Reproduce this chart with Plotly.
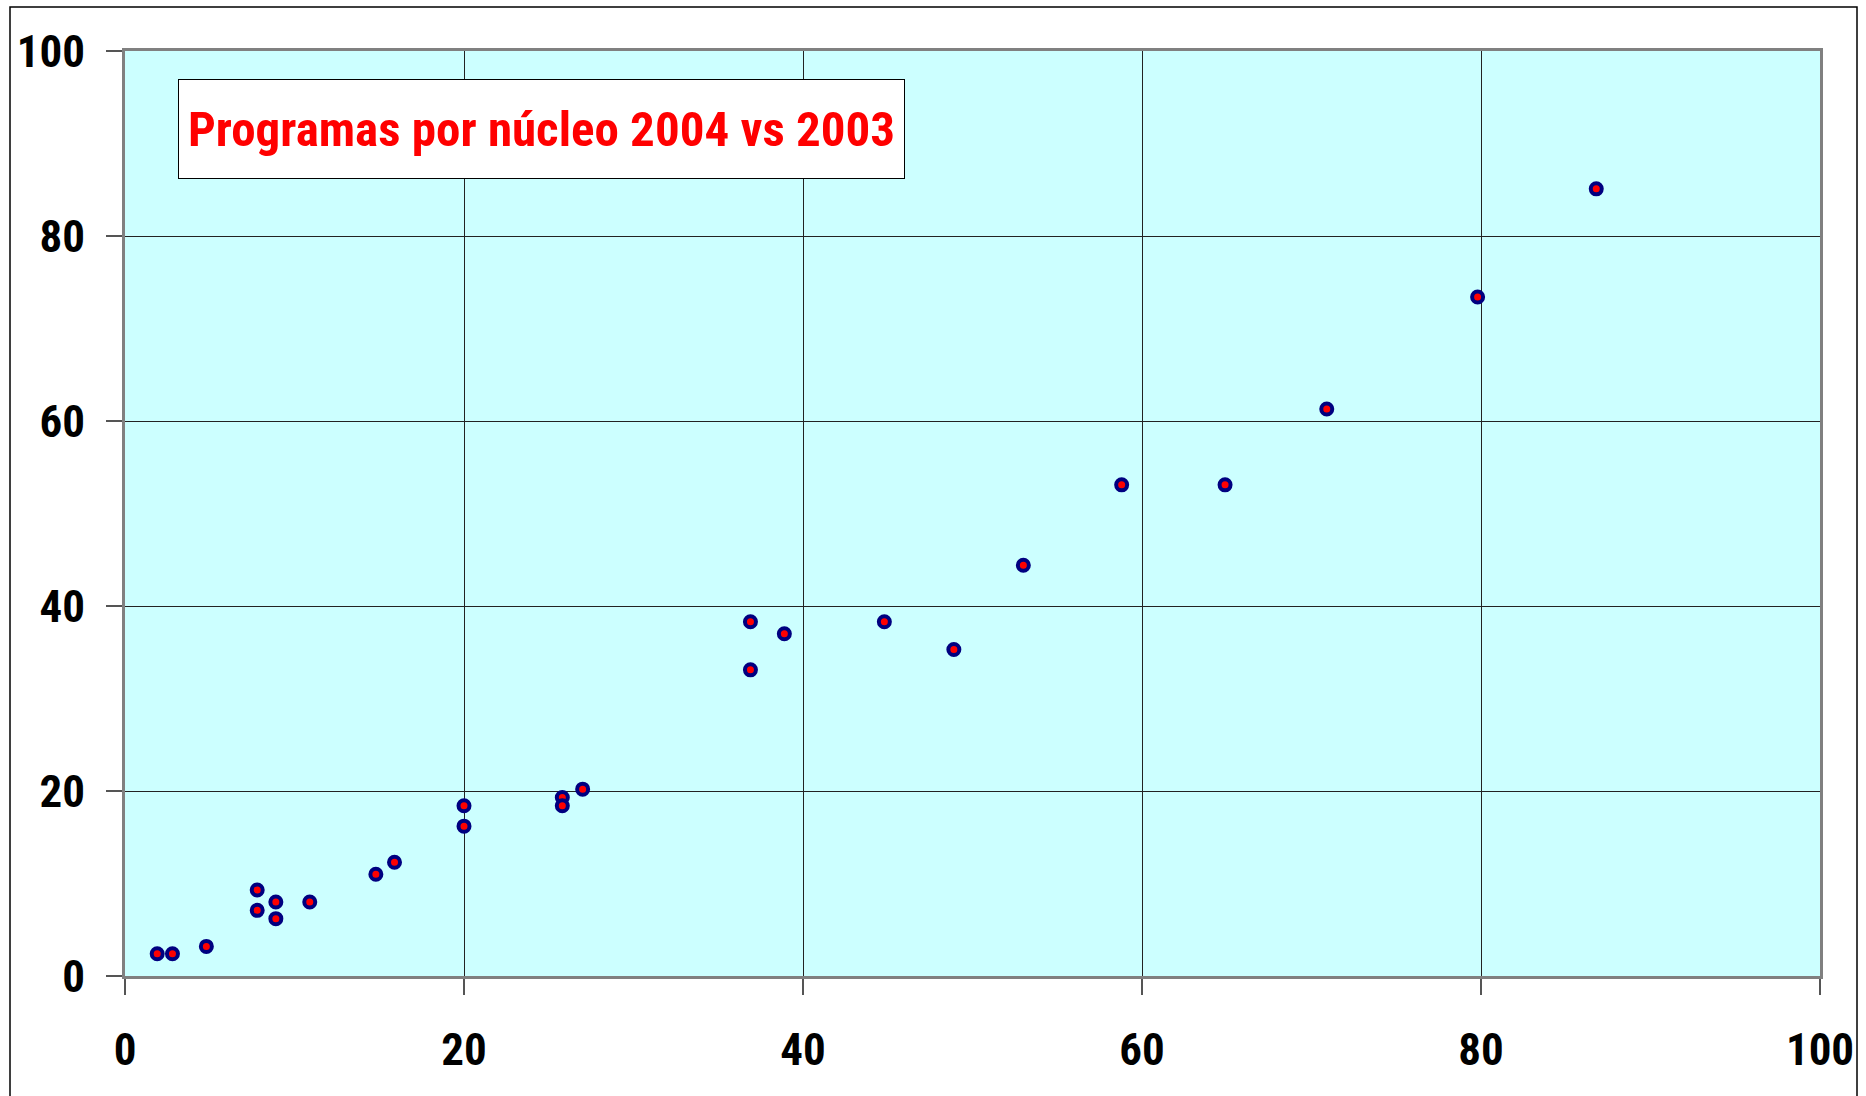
import plotly.graph_objects as go

# Programas por núcleo: 2003 (x) vs 2004 (y)
x_2003 = [1.9, 2.8, 4.8, 7.8, 7.8, 8.9, 8.9, 10.9, 14.8, 15.9,
          20.0, 20.0, 25.8, 25.8, 27.0, 36.9, 36.9, 38.9, 44.8, 48.9,
          53.0, 58.8, 64.9, 70.9, 79.8, 86.8]
y_2004 = [2.4, 2.4, 3.2, 9.3, 7.1, 8.0, 6.2, 8.0, 11.0, 12.3,
          18.4, 16.2, 19.3, 18.4, 20.2, 38.3, 33.1, 37.0, 38.3, 35.3,
          44.4, 53.1, 53.1, 61.3, 73.4, 85.1]
tick_vals = [0, 20, 40, 60, 80, 100]
title_text = "Programas por núcleo 2004 vs 2003"

W, H = 1866, 1096
L, R, T, B = 125, 46, 51, 120
pw, ph = W - L - R, H - T - B

font_fam = "Roboto Condensed, Liberation Sans Narrow, Arial Narrow, sans-serif"

fig = go.Figure()
fig.add_trace(go.Scatter(
    x=x_2003, y=y_2004, mode="markers",
    marker=dict(size=11, color="#FF0000", line=dict(color="#000080", width=4)),
    showlegend=False, hoverinfo="x+y",
))

axis_common = dict(
    range=[0, 100], tickvals=tick_vals, showgrid=True, gridcolor="#222222", gridwidth=1,
    zeroline=False, showline=True, linecolor="#808080", linewidth=3, mirror=True,
    ticks="outside", ticklen=16, tickwidth=1.5, tickcolor="#555555", automargin=False,
    tickfont=dict(family=font_fam, size=45, color="#000000", weight="bold"),
)

fig.update_xaxes(**axis_common, ticklabelstandoff=16)
fig.update_yaxes(**axis_common, ticklabelstandoff=12)

fig.add_annotation(
    xref="paper", yref="paper",
    x=(178 - L) / pw, y=(H - B - 79) / ph,
    xanchor="left", yanchor="top",
    text=title_text, showarrow=False,
    font=dict(family=font_fam, size=49, color="#FF0000", weight="bold"),
    bgcolor="#FFFFFF", bordercolor="#000000", borderwidth=1, borderpad=0,
    width=725, height=98, align="center", valign="middle",
)

# outer chart frame
fig.add_shape(
    type="rect", xref="paper", yref="paper",
    x0=(10 - L) / pw, x1=(1857 - L) / pw,
    y0=-0.3, y1=(H - B - 7) / ph,
    line=dict(color="#000000", width=1.5), layer="below",
)

fig.update_layout(
    width=W, height=H,
    margin=dict(l=L, r=R, t=T, b=B),
    paper_bgcolor="#FFFFFF", plot_bgcolor="#CCFFFF",
)

fig.write_html("out.html", config={"displayModeBar": False},
               post_script="document.body.style.margin='0';")
